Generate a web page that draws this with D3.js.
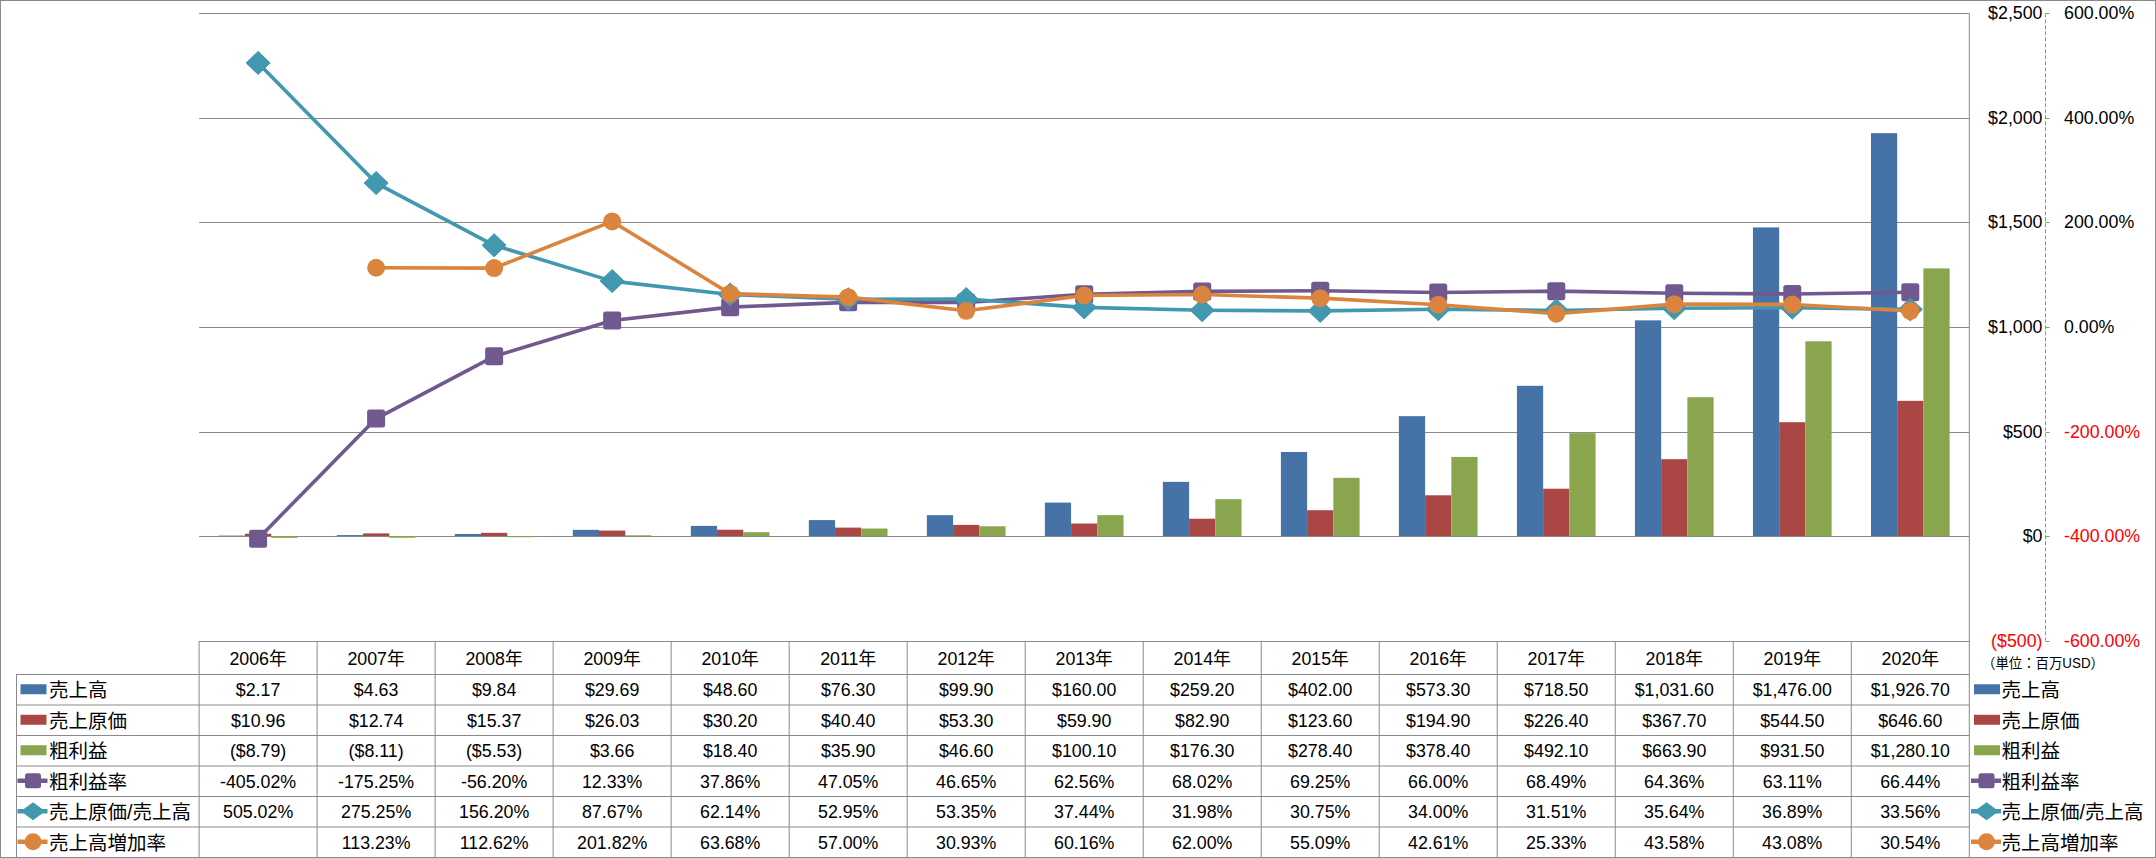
<!DOCTYPE html>
<html>
<head>
<meta charset="utf-8">
<script src="https://cdn.jsdelivr.net/npm/d3@7"></script>
<style>
  html, body { margin: 0; padding: 0; background: #fff; }
  svg { display: block; }
  text { font-family: "Liberation Sans", "Noto Sans CJK JP", sans-serif; }
</style>
</head>
<body>
<svg id="chart" width="2156" height="858"></svg>
<script>
// ---------------- DATA ----------------
const years = ["2006年","2007年","2008年","2009年","2010年","2011年","2012年","2013年","2014年","2015年","2016年","2017年","2018年","2019年","2020年"];
const sales = [2.17, 4.63, 9.84, 29.69, 48.60, 76.30, 99.90, 160.00, 259.20, 402.00, 573.30, 718.50, 1031.60, 1476.00, 1926.70];
const cogs  = [10.96, 12.74, 15.37, 26.03, 30.20, 40.40, 53.30, 59.90, 82.90, 123.60, 194.90, 226.40, 367.70, 544.50, 646.60];
const gross = [-8.79, -8.11, -5.53, 3.66, 18.40, 35.90, 46.60, 100.10, 176.30, 278.40, 378.40, 492.10, 663.90, 931.50, 1280.10];
const grossMargin = [-405.02, -175.25, -56.20, 12.33, 37.86, 47.05, 46.65, 62.56, 68.02, 69.25, 66.00, 68.49, 64.36, 63.11, 66.44];
const cogsRatio   = [505.02, 275.25, 156.20, 87.67, 62.14, 52.95, 53.35, 37.44, 31.98, 30.75, 34.00, 31.51, 35.64, 36.89, 33.56];
const salesGrowth = [null, 113.23, 112.62, 201.82, 63.68, 57.00, 30.93, 60.16, 62.00, 55.09, 42.61, 25.33, 43.58, 43.08, 30.54];
const leftTicks  = [-500, 0, 500, 1000, 1500, 2000, 2500];
const rightTicks = [-600, -400, -200, 0, 200, 400, 600];
const unitLabel = "（単位：百万USD）";

const barSeries = [
  {name: "売上高", values: sales, color: "#4572A7"},
  {name: "売上原価", values: cogs, color: "#AA4643"},
  {name: "粗利益", values: gross, color: "#89A54E"}
];
const lineSeries = [
  {name: "粗利益率", values: grossMargin, color: "#71588F", marker: "square"},
  {name: "売上原価/売上高", values: cogsRatio, color: "#4198AF", marker: "diamond"},
  {name: "売上高増加率", values: salesGrowth, color: "#DB843D", marker: "circle"}
];

// ---------------- LAYOUT ----------------
const plotL = 199.1, plotR = 1969.3, plotT = 13.3, plotB = 640.6;
const rowYs = [641, 674, 704.5, 735, 765.5, 796, 826.5, 857];
const legendL = 16.5;
const gridColor = "#8a8a8a";
const NUM_FS = 17.8, CJK_FS = 19.5;

const svg = d3.select("#chart");

const x = d3.scaleBand().domain(years).range([plotL, plotR]).paddingInner(0).paddingOuter(0);
const yL = d3.scaleLinear().domain([-500, 2500]).range([plotB, plotT]);
const yR = d3.scaleLinear().domain([-600, 600]).range([plotB, plotT]);

const bw = x.bandwidth() / (3 + 1.5);
const groupOff = (x.bandwidth() - 3 * bw) / 2;

// outer frame
svg.append("rect").attr("x", 0.5).attr("y", 0.5).attr("width", 2155).attr("height", 857)
  .attr("fill", "none").attr("stroke", gridColor).attr("stroke-width", 1);

// gridlines
svg.append("g").selectAll("line").data(leftTicks).join("line")
  .attr("x1", plotL).attr("x2", plotR)
  .attr("y1", d => Math.round(yL(d)) + 0.5).attr("y2", d => Math.round(yL(d)) + 0.5)
  .attr("stroke", gridColor).attr("stroke-width", 1);

// right plot border (extends through table)
svg.append("line").attr("x1", plotR).attr("x2", plotR).attr("y1", plotT).attr("y2", 857)
  .attr("stroke", gridColor).attr("stroke-width", 1);

// bars
barSeries.forEach((s, si) => {
  svg.append("g").selectAll("rect").data(s.values).join("rect")
    .attr("x", (d, i) => x(years[i]) + groupOff + si * bw)
    .attr("width", bw)
    .attr("y", d => Math.min(yL(d), yL(0)))
    .attr("height", d => Math.abs(yL(d) - yL(0)))
    .attr("fill", s.color);
});

// markers
function drawMarker(g, type, cx, cy, color, w, h) {
  if (type === "square") {
    g.append("rect").attr("x", cx - w / 2).attr("y", cy - h / 2).attr("width", w).attr("height", h)
      .attr("rx", 2.5).attr("fill", color);
  } else if (type === "diamond") {
    g.append("polygon").attr("points", [[cx, cy - h / 2], [cx + w / 2, cy], [cx, cy + h / 2], [cx - w / 2, cy]].map(p => p.join(",")).join(" "))
      .attr("fill", color).attr("stroke", color).attr("stroke-width", 1).attr("stroke-linejoin", "round");
  } else {
    g.append("ellipse").attr("cx", cx).attr("cy", cy).attr("rx", w / 2).attr("ry", h / 2).attr("fill", color);
  }
}
const markerSize = {square: [18, 18], diamond: [24, 23], circle: [18, 18]};
const legendMarkerSize = {square: [16, 15], diamond: [23, 17], circle: [17, 17]};

lineSeries.forEach(s => {
  const g = svg.append("g");
  const line = d3.line()
    .defined(d => d != null)
    .x((d, i) => x(years[i]) + x.bandwidth() / 2)
    .y(d => yR(d));
  g.append("path").datum(s.values).attr("d", line)
    .attr("fill", "none").attr("stroke", s.color).attr("stroke-width", 3.6).attr("stroke-linejoin", "round");
  s.values.forEach((v, i) => {
    if (v == null) return;
    const [w, h] = markerSize[s.marker];
    drawMarker(g, s.marker, x(years[i]) + x.bandwidth() / 2, yR(v), s.color, w, h);
  });
});

// axes (labels on right)
const axisX = 2045.5;
svg.append("line").attr("x1", axisX).attr("x2", axisX).attr("y1", plotT).attr("y2", plotB)
  .attr("stroke", "#22dd22").attr("stroke-width", 1).attr("stroke-dasharray", "4,2");
svg.append("g").selectAll("line").data(rightTicks).join("line")
  .attr("x1", axisX).attr("x2", axisX + 4)
  .attr("y1", d => Math.round(yR(d)) + 0.5).attr("y2", d => Math.round(yR(d)) + 0.5)
  .attr("stroke", "#22dd22").attr("stroke-width", 1);

const fmtComma = d3.format(",");
const fmtMoneyAxis = v => v < 0 ? "($" + fmtComma(-v) + ")" : "$" + fmtComma(v);
svg.append("g").selectAll("text").data(leftTicks).join("text")
  .attr("x", 2042.5).attr("y", d => yL(d)).attr("text-anchor", "end").attr("dominant-baseline", "central")
  .attr("font-size", NUM_FS).attr("fill", d => d < 0 ? "#ff0000" : "#000")
  .text(fmtMoneyAxis);
svg.append("g").selectAll("text").data(rightTicks).join("text")
  .attr("x", 2064).attr("y", d => yR(d)).attr("text-anchor", "start").attr("dominant-baseline", "central")
  .attr("font-size", NUM_FS).attr("fill", d => d < 0 ? "#ff0000" : "#000")
  .text(d => d.toFixed(2) + "%");

svg.append("text").attr("x", 1982).attr("y", 663).attr("dominant-baseline", "central")
  .attr("font-size", 14).attr("font-family", "Noto Sans CJK JP").attr("textLength", 122).attr("lengthAdjust", "spacingAndGlyphs")
  .text(unitLabel);

// ---------------- DATA TABLE ----------------
const tg = svg.append("g");
// horizontal lines
tg.append("line").attr("x1", plotL).attr("x2", plotR).attr("y1", rowYs[0] + 0.5).attr("y2", rowYs[0] + 0.5)
  .attr("stroke", gridColor);
rowYs.slice(1).forEach(yv => {
  tg.append("line").attr("x1", legendL).attr("x2", plotR).attr("y1", yv + 0.5).attr("y2", yv + 0.5).attr("stroke", gridColor);
});
// vertical lines
years.forEach(yr => {
  tg.append("line").attr("x1", x(yr)).attr("x2", x(yr)).attr("y1", rowYs[0]).attr("y2", 857).attr("stroke", gridColor);
});
tg.append("line").attr("x1", legendL).attr("x2", legendL).attr("y1", rowYs[1]).attr("y2", 857).attr("stroke", gridColor);

// header
tg.selectAll("text.hdr").data(years).join("text").attr("class", "hdr")
  .attr("x", d => x(d) + x.bandwidth() / 2).attr("y", (rowYs[0] + rowYs[1]) / 2 + 1)
  .attr("text-anchor", "middle").attr("dominant-baseline", "central").attr("font-size", NUM_FS)
  .text(d => d);

const fmt2 = d3.format(",.2f");
const fmtMoney = v => v < 0 ? "($" + fmt2(-v) + ")" : "$" + fmt2(v);
const fmtPct = v => v == null ? "" : v.toFixed(2) + "%";
const rows = [
  {s: barSeries[0], f: fmtMoney, kind: "bar"},
  {s: barSeries[1], f: fmtMoney, kind: "bar"},
  {s: barSeries[2], f: fmtMoney, kind: "bar"},
  {s: lineSeries[0], f: fmtPct, kind: "line"},
  {s: lineSeries[1], f: fmtPct, kind: "line"},
  {s: lineSeries[2], f: fmtPct, kind: "line"}
];

function legendKey(g, r, x0, cy) {
  if (r.kind === "bar") {
    g.append("rect").attr("x", x0 + 3).attr("y", cy - 5).attr("width", 26).attr("height", 10).attr("fill", r.s.color);
  } else {
    g.append("line").attr("x1", x0).attr("x2", x0 + 30).attr("y1", cy).attr("y2", cy)
      .attr("stroke", r.s.color).attr("stroke-width", 4.5);
    const [w, h] = legendMarkerSize[r.s.marker];
    drawMarker(g, r.s.marker, x0 + 15.5, cy, r.s.color, w, h);
  }
}

rows.forEach((r, ri) => {
  const cy = (rowYs[ri + 1] + rowYs[ri + 2]) / 2 + 1;
  tg.append("g").selectAll("text").data(r.s.values).join("text")
    .attr("x", (d, i) => x(years[i]) + x.bandwidth() / 2).attr("y", cy)
    .attr("text-anchor", "middle").attr("dominant-baseline", "central").attr("font-size", NUM_FS)
    .text(d => r.f(d));
  // left legend
  legendKey(tg, r, 17.5, cy - 1);
  tg.append("text").attr("x", 49).attr("y", cy).attr("dominant-baseline", "central")
    .attr("font-size", CJK_FS).attr("font-family", "Noto Sans CJK JP").text(r.s.name);
  // right legend
  legendKey(tg, r, 1971, cy - 1);
  tg.append("text").attr("x", 2001.5).attr("y", cy).attr("dominant-baseline", "central")
    .attr("font-size", CJK_FS).attr("font-family", "Noto Sans CJK JP").text(r.s.name);
});
</script>
</body>
</html>
